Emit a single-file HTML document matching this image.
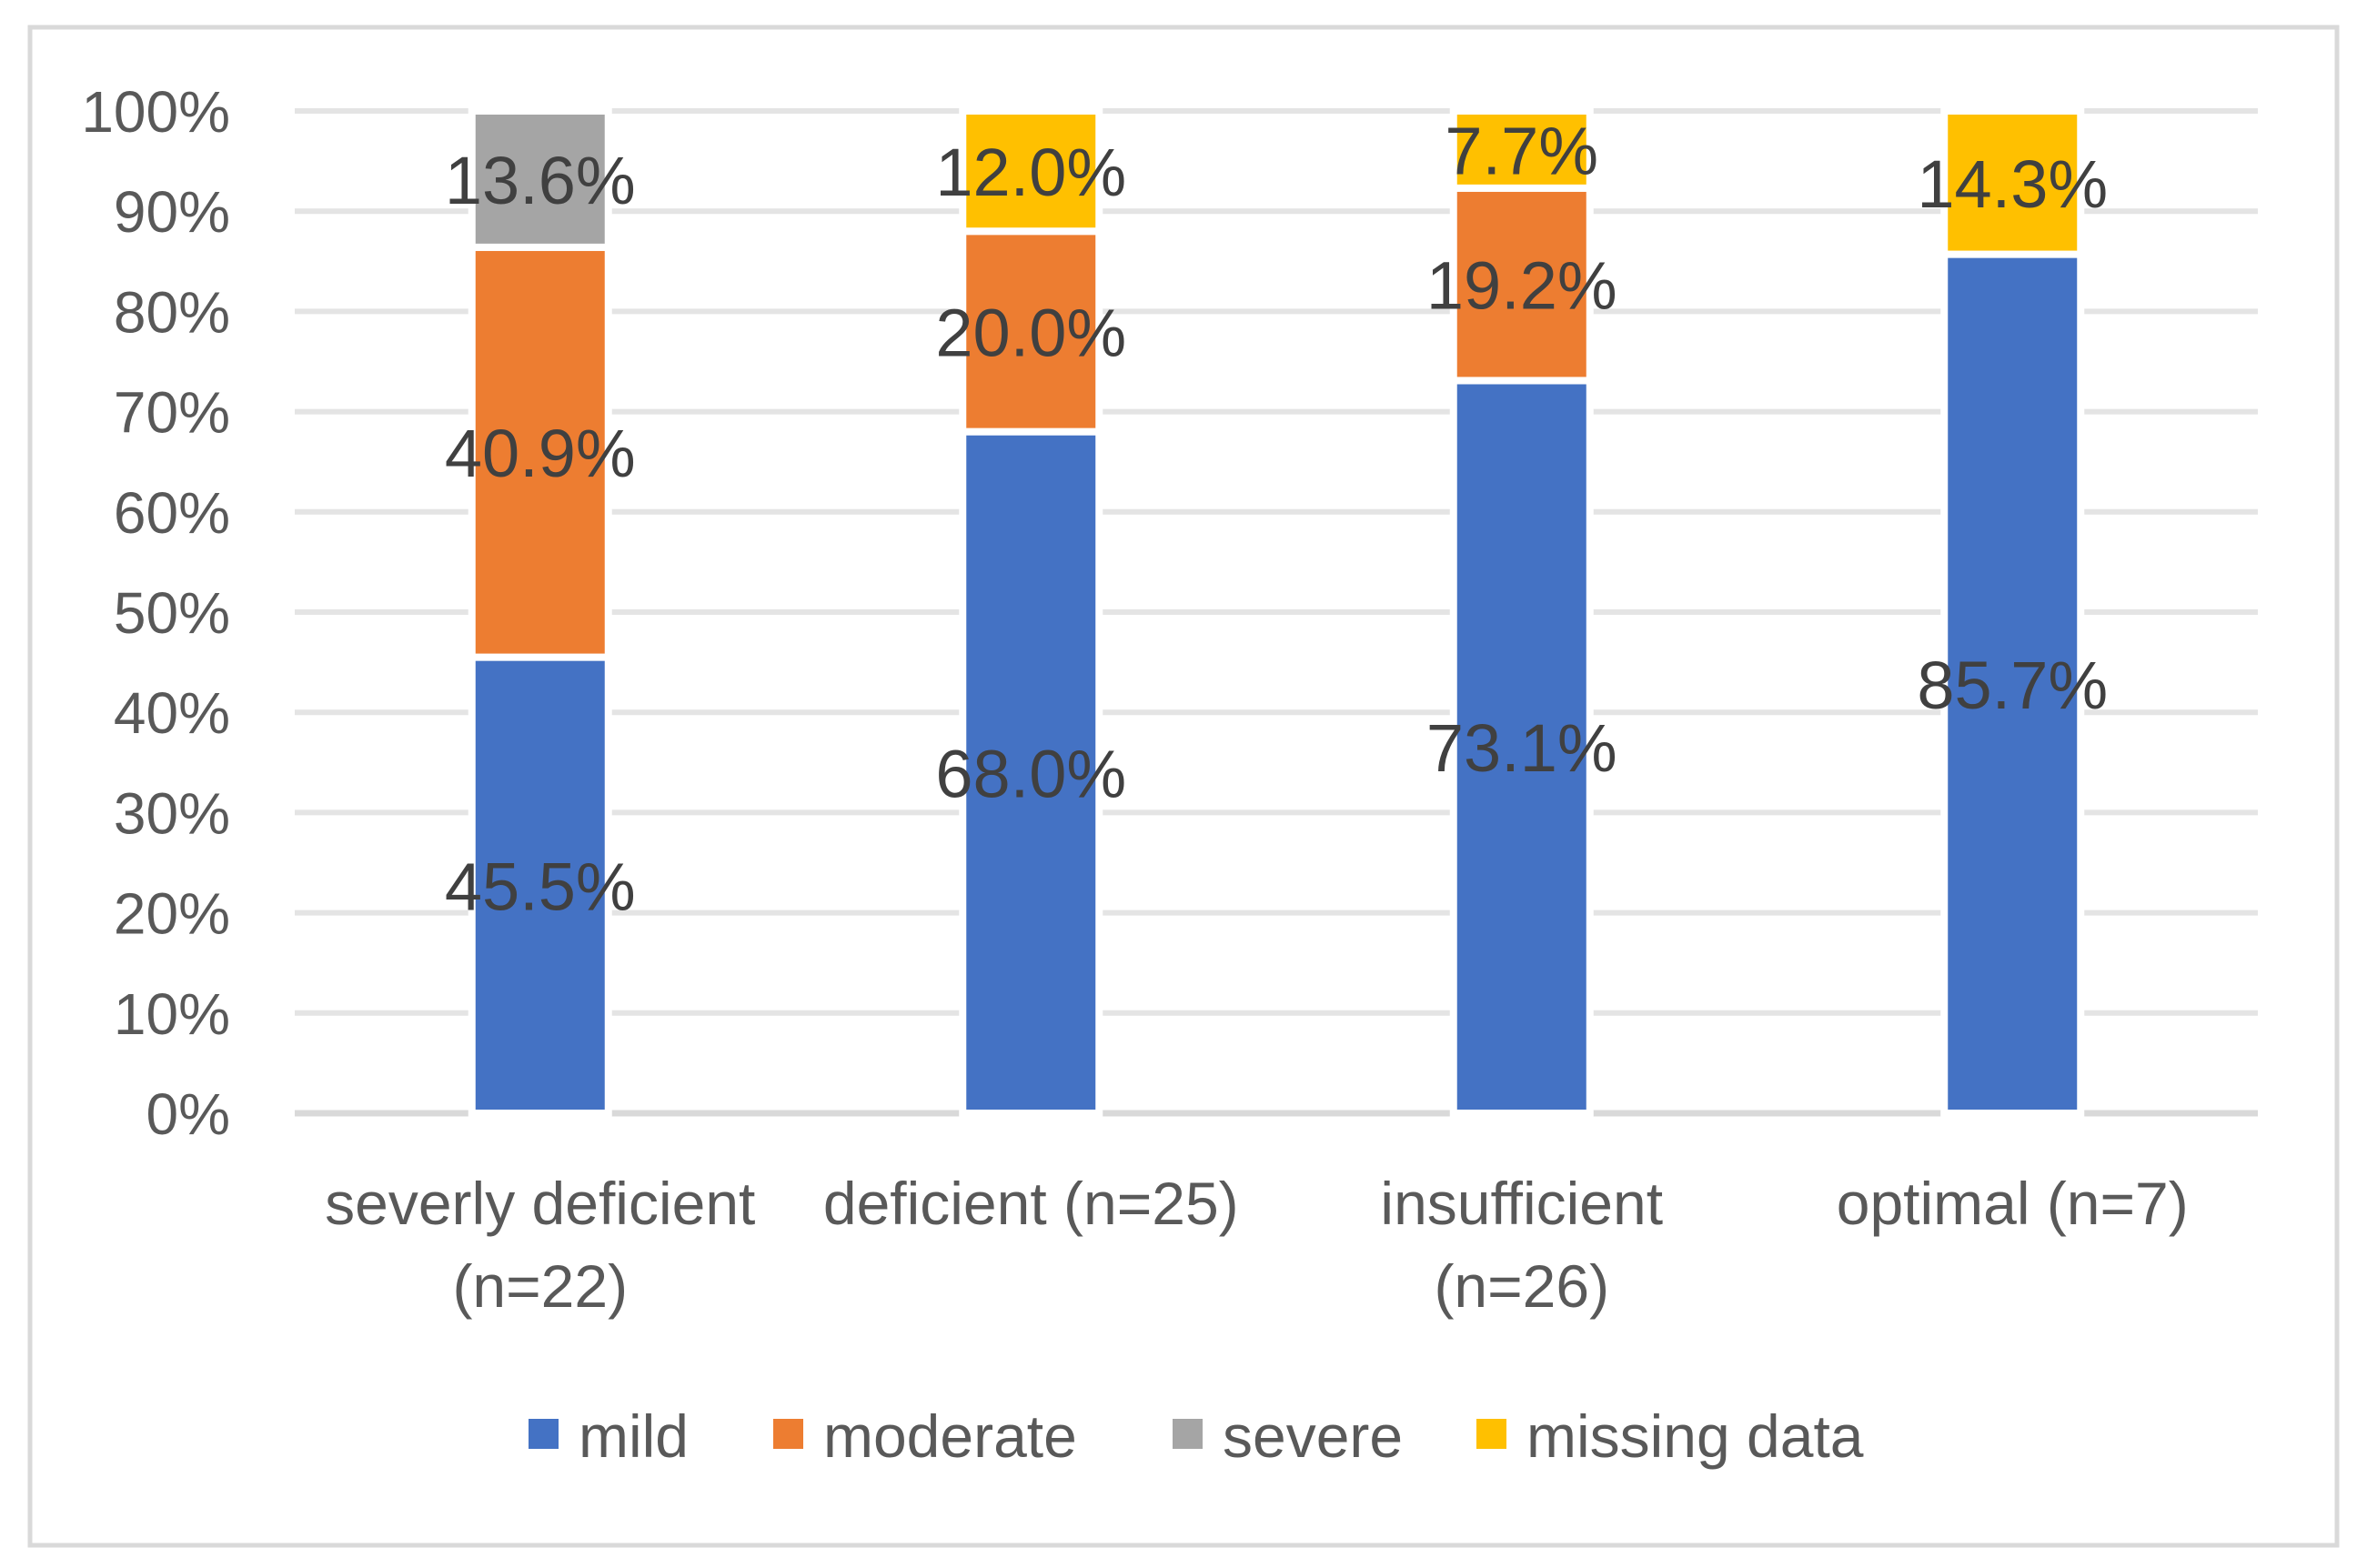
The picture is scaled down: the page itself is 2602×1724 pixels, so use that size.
<!DOCTYPE html>
<html><head><meta charset="utf-8"><style>
html,body{margin:0;padding:0;background:#fff;}
svg{display:block;font-family:"Liberation Sans",Arial,sans-serif;}
</style></head><body>
<svg id="chart" width="2602" height="1724" viewBox="0 0 2602 1724" xmlns="http://www.w3.org/2000/svg">
<rect x="33" y="30" width="2536" height="1669" fill="#fff" stroke="#d9d9d9" stroke-width="5"/>
<g id="grid"></g><g id="bars"></g><g id="labels"></g><g id="axes"></g><g id="legend"></g>
</svg>
<script>
const categories = [["severly deficient","(n=22)"],["deficient (n=25)"],["insufficient","(n=26)"],["optimal (n=7)"]];
const seriesNames = ["mild","moderate","severe","missing data"];
const mild = [45.5, 68.0, 73.1, 85.7];
const moderate = [40.9, 20.0, 19.2, 0];
const severe = [13.6, 0, 0, 0];
const missing = [0, 12.0, 7.7, 14.3];
const yTicks = [0,10,20,30,40,50,60,70,80,90,100];
const colors = ["#4472c4","#ed7d31","#a5a5a5","#ffc000"];

const NS="http://www.w3.org/2000/svg";
const plotL=324, plotR=2482, y0=1224, y100=122;
const band=(plotR-plotL)/categories.length, barW=150;
const yS=v=>y0-(v/100)*(y0-y100);
const xC=i=>plotL+band*(i+0.5);
function mk(t,a,p){const e=document.createElementNS(NS,t);for(const k in a)e.setAttribute(k,a[k]);p.appendChild(e);return e;}
const G=id=>document.getElementById(id);

yTicks.forEach(t=>{
  const l=mk('line',{x1:plotL,x2:plotR,y1:yS(t),y2:yS(t),stroke:t===0?'#d9d9d9':'#e4e4e4','stroke-width':t===0?7:6},G('grid'));
  
  
  const tx=mk('text',{x:253,y:yS(t)+23,'text-anchor':'end','font-size':64,fill:'#595959'},G('axes'));
  tx.textContent=t+'%';
  
  
});

const series=[mild,moderate,severe,missing];
categories.forEach((c,i)=>{
  let cum=0;
  series.forEach((s,k)=>{
    const v=s[i]; if(!v){return;}
    const top=yS(cum+v), bot=yS(cum);
    const r=mk('rect',{x:xC(i)-barW/2,y:top,width:barW,height:bot-top,fill:colors[k],stroke:'#fff','stroke-width':8},G('bars'));
    
    
    const tl=mk('text',{x:xC(i),y:(top+bot)/2+27,'text-anchor':'middle','font-size':74,fill:'#404040'},G('labels'));
    tl.textContent=v.toFixed(1)+'%';
    
    
    cum+=v;
  });
  c.forEach((line,j)=>{
    const t=mk('text',{x:xC(i),y:1346+j*91,'text-anchor':'middle','font-size':66,fill:'#595959'},G('axes'));
    t.textContent=line;
    
    
  });
});

const legX=[581,850,1289,1623];
seriesNames.forEach((n,k)=>{
  const sq=mk('rect',{x:legX[k],y:1560,width:33,height:33,fill:colors[k]},G('legend'));
  
  
  const t=mk('text',{x:legX[k]+55,y:1602,'font-size':66,fill:'#595959'},G('legend'));
  t.textContent=n;
  
  
});
</script>
</body></html>
